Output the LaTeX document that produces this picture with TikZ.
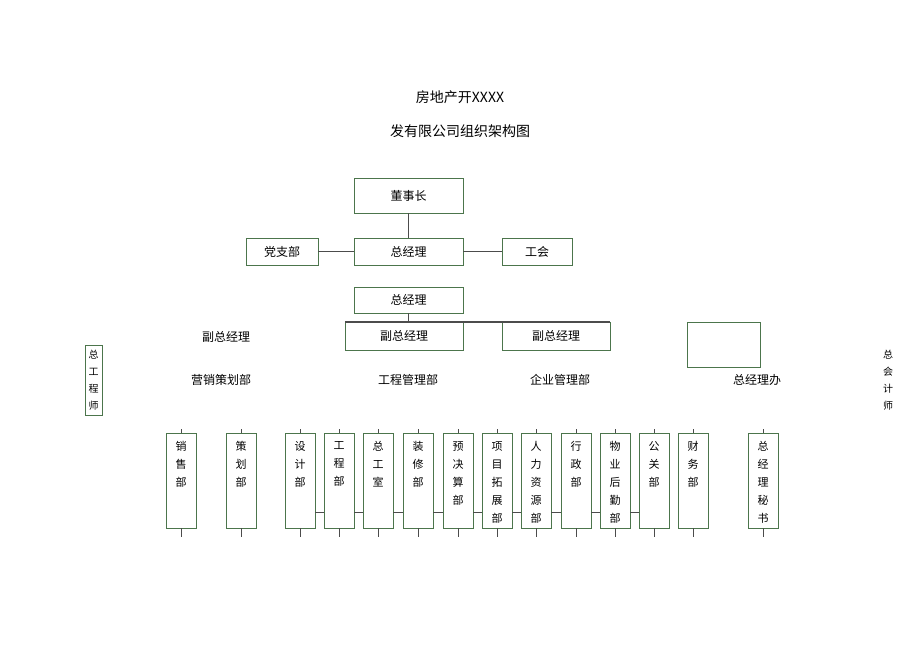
\documentclass[tikz,border=0pt]{standalone}
\usepackage{fontspec}
\setmainfont{Noto Sans CJK SC}
\begin{document}
\begin{tikzpicture}[x=1pt,y=-1pt,
 bx/.style={draw=black!60!green!40!gray,line width=0.8pt,inner sep=0pt},
 ln/.style={draw=black!70,line width=0.8pt},
 lbl/.style={font=\fontsize{12}{14}\selectfont},
 vt/.style={font=\fontsize{11}{18}\selectfont,align=center,anchor=north}]
\useasboundingbox (0,0) rectangle (920,651);
\node[lbl,font=\fontsize{14}{16}\selectfont] (t1) at (460,97) {房地产开XXXX};
\node[lbl,font=\fontsize{14}{16}\selectfont] (t2) at (460,131) {发有限公司组织架构图};
\node[bx,minimum width=109,minimum height=35,lbl] (dsz) at (408.5,195.5) {董事长};
\node[bx,minimum width=109,minimum height=27,lbl] (zjl) at (408.5,251.5) {总经理};
\node[bx,minimum width=72,minimum height=27,lbl] (dzb) at (282,251.5) {党支部};
\node[bx,minimum width=70,minimum height=27,lbl] (gh) at (537,251.5) {工会};
\draw[ln] (dsz) -- (zjl); \draw[ln] (dzb) -- (zjl); \draw[ln] (zjl) -- (gh);
\node[bx,minimum width=109,minimum height=26,lbl] (zjl2) at (408.5,300) {总经理};
\node[bx,minimum width=118,minimum height=28,lbl] (fz1) at (404,336) {副总经理};
\node[bx,minimum width=108,minimum height=28,lbl] (fz2) at (556,336) {副总经理};
\coordinate (hl) at (345,322); \coordinate (hr) at (610,322);
\draw[ln,line width=1.5pt] (hl) -- (hr);
\draw[ln] (zjl2.south) -- (408.5,322);
\node[bx,minimum width=73,minimum height=45] (empty) at (723.5,344.5) {};
\node[lbl] (fz0) at (226,337) {副总经理};
\node[lbl] (m1) at (221,380) {营销策划部};
\node[lbl] (m2) at (408,380) {工程管理部};
\node[lbl] (m3) at (560,380) {企业管理部};
\node[lbl] (m4) at (757,380) {总经理办};
\node[bx,minimum width=17,minimum height=70,font=\fontsize{10}{17}\selectfont,align=center] (zgcs) at (93.5,380) {总\\工\\程\\师};
\node[font=\fontsize{10}{17}\selectfont,align=center] (zkjs) at (888,380) {总\\会\\计\\师};
\foreach \n/\x/\t in {a/181/销\\售\\部, b/241/策\\划\\部, c/300/设\\计\\部, d/339/工\\程\\部, e/378/总\\工\\室, f/418/装\\修\\部, g/458/预\\决\\算\\部, h/497/项\\目\\拓\\展\\部, i/536/人\\力\\资\\源\\部, j/576/行\\政\\部, k/615/物\\业\\后\\勤\\部, l/654/公\\关\\部, m/693/财\\务\\部, n/763/总\\经\\理\\秘\\书}{
 \node[bx,minimum width=30,minimum height=95] (\n) at (\x,480.5) {};
 \node[vt] (\n t) at (\x,438) {\t};
 \coordinate (\n u) at (\x,429); \coordinate (\n d) at (\x,537);
 \draw[ln] (\n u) -- (\n.north); \draw[ln] (\n.south) -- (\n d);
}
\foreach \p/\q in {c/d,d/e,e/f,f/g,g/h,h/i,i/j,j/k,k/l}{
 \draw[ln] (\p.east |- 0,512) -- (\q.west |- 0,512);
}
\end{tikzpicture}
\end{document}
